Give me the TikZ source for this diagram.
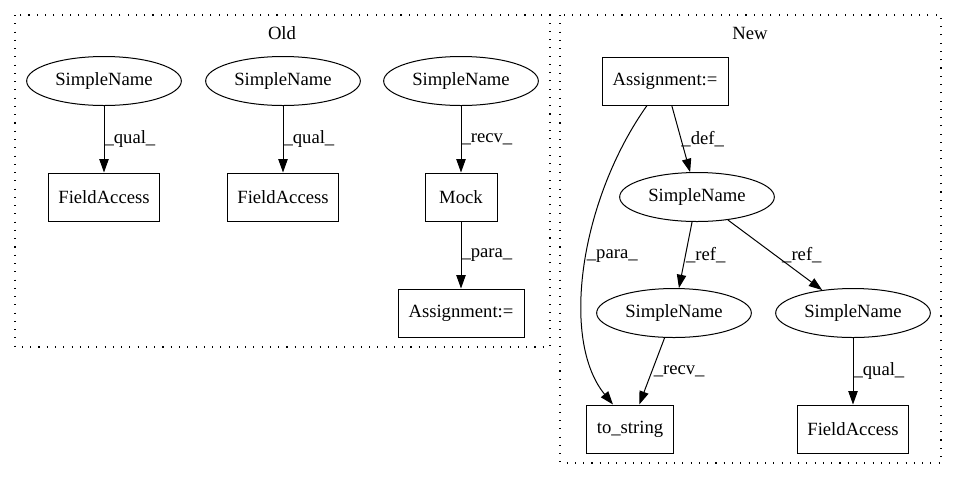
\documentclass[tikz,border=0pt]{standalone}
\usepackage{fontspec}
\setmainfont{Liberation Serif}
\usetikzlibrary{shapes.geometric,arrows.meta}

\begin{document}
\begin{tikzpicture}[x=0.75pt,y=-0.75pt,
    font=\fontsize{14pt}{16pt}\selectfont,
    sname/.style={draw,ellipse,line width=0.75pt,minimum width=116pt,minimum height=36.75pt,inner sep=0pt},
    fbox/.style={draw,rectangle,line width=0.75pt,minimum height=36pt,inner sep=0pt},
    cluster/.style={line width=0.8pt,dash pattern=on 0.8pt off 5.4pt},
    edge/.style={-{Triangle[length=10pt,width=7pt]},line width=0.75pt},
    elabel/.style={anchor=west,inner sep=0pt}]
    \useasboundingbox (0,0) rectangle (957,480);
    % clusters
    \draw[cluster] (15,15) rectangle (550,347);
    \node (oldlbl) at (282,33) {Old};
    \draw[cluster] (560,15) rectangle (941,463);
    \node (newlbl) at (750,33) {New};
    % old
    \node[sname] (snA) at (104,81) {SimpleName};
    \node[sname] (snB) at (283,81) {SimpleName};
    \node[sname] (snC) at (461,81) {SimpleName};
    \node[fbox,minimum width=83.25pt] (faA) at (104,197) {FieldAccess};
    \node[fbox,minimum width=83.25pt] (faB) at (283,197) {FieldAccess};
    \node[fbox,minimum width=54pt] (mock) at (461,197) {Mock};
    \node[fbox,minimum width=94.5pt] (asgnOld) at (461,313) {Assignment:=};
    \draw[edge] (snA) -- (faA) node[elabel,midway] {\_qual\_};
    \draw[edge] (snB) -- (faB) node[elabel,midway] {\_qual\_};
    \draw[edge] (snC) -- (mock) node[elabel,midway] {\_recv\_};
    \draw[edge] (mock) -- (asgnOld) node[elabel,midway] {\_para\_};
    % new
    \node[fbox,minimum width=94.5pt] (asgnNew) at (665,81) {Assignment:=};
    \node[sname] (snD) at (697,197) {SimpleName};
    \node[sname] (snE) at (674,313) {SimpleName};
    \node[sname] (snF) at (853,313) {SimpleName};
    \node[fbox,minimum width=65.25pt] (tostr) at (630,429) {to\_string};
    \node[fbox,minimum width=83.25pt] (faC) at (853,429) {FieldAccess};
    \draw[edge] (asgnNew) -- (snD) node[elabel,midway] {\_def\_};
    \draw[edge] (snD) -- (snE) node[elabel,midway] {\_ref\_};
    \draw[edge] (snD) -- (snF) node[elabel,midway,xshift=5pt] {\_ref\_};
    \draw[edge] (snE) -- (tostr) node[elabel,midway,xshift=1pt] {\_recv\_};
    \draw[edge] (snF) -- (faC) node[elabel,midway] {\_qual\_};
    \draw[edge] ([xshift=-13.5pt]asgnNew.south) .. controls (580,200) and (560,340) .. ([xshift=-12.75pt]tostr.north)
      node[elabel,pos=0.47] {\_para\_};
\end{tikzpicture}
\end{document}
